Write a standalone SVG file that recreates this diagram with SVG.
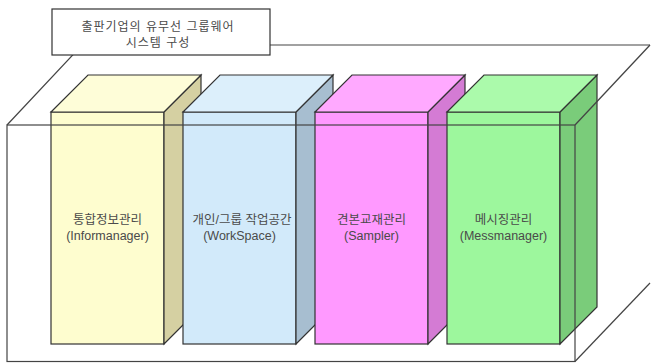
<svg xmlns="http://www.w3.org/2000/svg" width="651" height="363" viewBox="0 0 651 363">
<style>
.edge{stroke:#333;stroke-width:1.2;stroke-linejoin:miter}
.frame{fill:none;stroke:#444;stroke-width:1.2}
.t{font-family:"Liberation Sans","Noto Sans CJK KR",sans-serif;font-size:12.5px;fill:#4a4a4a;text-anchor:middle}
.lbl{font-family:"Liberation Sans","Noto Sans CJK KR",sans-serif;font-size:12px;fill:#4a4a4a;text-anchor:middle;letter-spacing:1px}
</style>
<rect width="651" height="363" fill="#fff"/>
<g id="box-informanager">
<rect class="edge" x="51" y="112" width="113" height="232" fill="#FEFDCF"/>
<text class="t" x="107.5" y="224">통합정보관리</text>
<text class="t" x="107.5" y="240">(Informanager)</text>
<polygon class="edge" points="164,112 201,75 201,307 164,344" fill="#D5D0A2"/>
<polygon class="edge" points="51,112 88,75 201,75 164,112" fill="#FEFDD8"/>
</g>
<g id="box-workspace">
<rect class="edge" x="183" y="112" width="113" height="232" fill="#D2EAFA"/>
<text class="t" x="242" y="224">개인/그룹 작업공간</text>
<text class="t" x="239.5" y="240">(WorkSpace)</text>
<polygon class="edge" points="296,112 333,75 333,307 296,344" fill="#A7BED0"/>
<polygon class="edge" points="183,112 220,75 333,75 296,112" fill="#DCEFFB"/>
</g>
<g id="box-sampler">
<rect class="edge" x="315" y="112" width="113" height="232" fill="#FF99FF"/>
<text class="t" x="371.5" y="224">견본교재관리</text>
<text class="t" x="371.5" y="240">(Sampler)</text>
<polygon class="edge" points="428,112 465,75 465,307 428,344" fill="#D47BD4"/>
<polygon class="edge" points="315,112 352,75 465,75 428,112" fill="#FFA9FF"/>
</g>
<g id="box-messmanager">
<rect class="edge" x="447" y="112" width="113" height="232" fill="#9DF79D"/>
<text class="t" x="503.5" y="224">메시징관리</text>
<text class="t" x="503.5" y="240">(Messmanager)</text>
<polygon class="edge" points="560,112 597,75 597,307 560,344" fill="#7ACC7A"/>
<polygon class="edge" points="447,112 484,75 597,75 560,112" fill="#ABFAAB"/>
</g>
<g id="connectors">
<rect class="frame" x="7" y="125" width="568" height="236.5"/>
<polyline class="frame" points="7,125 82,45 650,45"/>
<line class="frame" x1="575" y1="125" x2="650" y2="45"/>
<line class="frame" x1="575" y1="361.5" x2="650" y2="283"/>
</g>
<g id="title">
<rect x="52" y="9" width="218" height="46" fill="#fff" stroke="#333" stroke-width="1.2"/>
<text class="lbl" x="158" y="31">출판기업의 유무선 그룹웨어</text>
<text class="lbl" x="158" y="47">시스템 구성</text>
</g>
</svg>
